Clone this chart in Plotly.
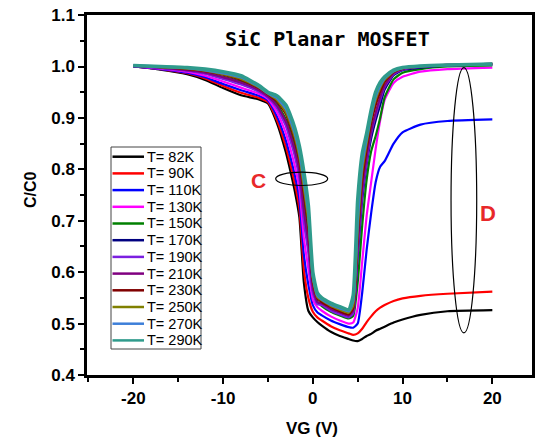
import plotly.graph_objects as go

VG = [-20, -17, -14, -12, -10, -8, -6, -5, -4, -3, -2.5, -2, -1.5, -1, -0.5, 0, 0.5,
      1, 2, 3, 4, 4.5, 5, 5.5, 6, 6.5, 7, 7.5, 8, 9, 10, 12, 15, 20]

C_82K = [1.000, 0.994, 0.985, 0.974, 0.958, 0.944, 0.936, 0.928, 0.890, 0.833, 0.797, 0.757, 0.707, 0.580, 0.525, 0.512, 0.503,
         0.496, 0.484, 0.476, 0.470, 0.467, 0.466, 0.470, 0.476, 0.480, 0.486, 0.490, 0.494, 0.502, 0.508, 0.517, 0.524, 0.526]
C_90K = [1.000, 0.995, 0.987, 0.977, 0.962, 0.949, 0.939, 0.931, 0.896, 0.844, 0.810, 0.772, 0.724, 0.606, 0.550, 0.523, 0.512,
         0.506, 0.495, 0.487, 0.481, 0.478, 0.481, 0.490, 0.503, 0.514, 0.524, 0.531, 0.536, 0.544, 0.549, 0.554, 0.558, 0.562]
C_110K = [1.000, 0.995, 0.988, 0.979, 0.966, 0.954, 0.943, 0.934, 0.903, 0.856, 0.824, 0.788, 0.742, 0.634, 0.576, 0.536, 0.522,
          0.516, 0.506, 0.499, 0.493, 0.492, 0.500, 0.560, 0.644, 0.715, 0.775, 0.805, 0.816, 0.850, 0.872, 0.887, 0.894, 0.897]
C_130K = [1.001, 0.996, 0.990, 0.982, 0.971, 0.959, 0.947, 0.937, 0.911, 0.870, 0.840, 0.806, 0.762, 0.666, 0.607, 0.547, 0.532,
          0.525, 0.514, 0.506, 0.500, 0.502, 0.530, 0.620, 0.710, 0.775, 0.840, 0.895, 0.935, 0.968, 0.980, 0.990, 0.995, 0.998]
C_150K = [1.001, 0.998, 0.994, 0.989, 0.980, 0.971, 0.955, 0.943, 0.927, 0.897, 0.873, 0.843, 0.804, 0.730, 0.668, 0.574, 0.543,
          0.534, 0.523, 0.516, 0.510, 0.515, 0.580, 0.690, 0.780, 0.835, 0.865, 0.900, 0.940, 0.975, 0.988, 0.995, 1.000, 1.002]
C_170K = [1.001, 0.998, 0.993, 0.987, 0.977, 0.967, 0.952, 0.941, 0.922, 0.888, 0.862, 0.831, 0.790, 0.709, 0.648, 0.565, 0.540,
          0.537, 0.526, 0.519, 0.513, 0.520, 0.630, 0.740, 0.810, 0.860, 0.895, 0.925, 0.955, 0.983, 0.993, 0.998, 1.002, 1.004]
C_190K = [1.001, 0.997, 0.992, 0.986, 0.976, 0.965, 0.951, 0.940, 0.919, 0.884, 0.856, 0.825, 0.783, 0.698, 0.638, 0.560, 0.538,
          0.536, 0.525, 0.518, 0.512, 0.520, 0.640, 0.750, 0.815, 0.870, 0.905, 0.935, 0.960, 0.985, 0.994, 0.999, 1.002, 1.004]
C_210K = [1.001, 0.998, 0.993, 0.988, 0.979, 0.969, 0.954, 0.942, 0.924, 0.893, 0.867, 0.837, 0.797, 0.720, 0.658, 0.569, 0.542,
          0.539, 0.529, 0.522, 0.516, 0.525, 0.650, 0.760, 0.825, 0.875, 0.910, 0.940, 0.963, 0.987, 0.995, 1.000, 1.003, 1.005]
C_230K = [1.002, 0.999, 0.995, 0.991, 0.984, 0.974, 0.958, 0.946, 0.932, 0.907, 0.883, 0.855, 0.817, 0.752, 0.689, 0.582, 0.549,
          0.542, 0.532, 0.524, 0.518, 0.530, 0.670, 0.780, 0.840, 0.890, 0.925, 0.950, 0.970, 0.989, 0.996, 1.000, 1.003, 1.005]
C_250K = [1.002, 0.999, 0.996, 0.992, 0.985, 0.976, 0.959, 0.947, 0.935, 0.911, 0.889, 0.862, 0.824, 0.763, 0.699, 0.587, 0.551,
          0.545, 0.534, 0.527, 0.521, 0.535, 0.680, 0.795, 0.850, 0.900, 0.935, 0.958, 0.974, 0.990, 0.997, 1.000, 1.003, 1.005]
C_270K = [1.002, 1.000, 0.997, 0.993, 0.987, 0.979, 0.961, 0.948, 0.939, 0.918, 0.896, 0.870, 0.834, 0.778, 0.714, 0.593, 0.555,
          0.547, 0.537, 0.530, 0.524, 0.545, 0.700, 0.810, 0.860, 0.905, 0.942, 0.963, 0.977, 0.991, 0.997, 1.001, 1.003, 1.005]
C_290K = [1.002, 1.000, 0.998, 0.995, 0.990, 0.982, 0.963, 0.950, 0.943, 0.925, 0.905, 0.880, 0.845, 0.795, 0.730, 0.600, 0.560,
          0.550, 0.540, 0.533, 0.527, 0.555, 0.740, 0.830, 0.870, 0.915, 0.950, 0.969, 0.980, 0.993, 0.998, 1.001, 1.003, 1.005]

NAMES = ["T= 82K", "T= 90K", "T= 110K", "T= 130K", "T= 150K", "T= 170K",
         "T= 190K", "T= 210K", "T= 230K", "T= 250K", "T= 270K", "T= 290K"]
SERIES = [C_82K, C_90K, C_110K, C_130K, C_150K, C_170K,
          C_190K, C_210K, C_230K, C_250K, C_270K, C_290K]
COLORS = ["#000000", "#ff0000", "#0000ff", "#ff00ff", "#008000", "#000080",
          "#7b1fe0", "#800080", "#800000", "#808000", "#3d7fd9", "#2f9b8c"]
WIDTHS = [2.2, 2.2, 2.2, 2.2, 2.2, 2.2, 2.2, 2.2, 2.2, 2.2, 2.6, 3.6]

X_TICKS = [-20, -10, 0, 10, 20]
Y_TICKS = [0.4, 0.5, 0.6, 0.7, 0.8, 0.9, 1.0, 1.1]

fig = go.Figure()
for name, ys, col, w in zip(NAMES, SERIES, COLORS, WIDTHS):
    fig.add_trace(go.Scatter(x=VG, y=ys, mode="lines", name=name, showlegend=False,
                             line=dict(color=col, width=w, shape="spline", smoothing=0.5)))

# page body margin is set to 0 by post_script, so the figure fills the window
W, H = 537, 439
ML, MT, MR, MB = 87, 15, 5, 64
PW, PH = W - ML - MR, H - MT - MB

def px_x(px):
    return (px - ML) / PW

def px_y(py):
    return (H - MB - py) / PH

shapes = []
annotations = []

# legend box (manual, to match compact spacing)
shapes.append(dict(type="rect", xref="paper", yref="paper",
                   x0=px_x(111), x1=px_x(201), y0=px_y(349), y1=px_y(147),
                   line=dict(color="#444444", width=1), fillcolor="white", layer="above"))
for i, (name, col) in enumerate(zip(NAMES, COLORS)):
    yy = px_y(156.7 + 16.7 * i)
    shapes.append(dict(type="line", xref="paper", yref="paper",
                       x0=px_x(112.5), x1=px_x(144), y0=yy, y1=yy,
                       line=dict(color=col, width=2.5), layer="above"))
    annotations.append(dict(xref="paper", yref="paper", x=px_x(145), y=yy,
                            text=name, showarrow=False, xanchor="left", yanchor="middle",
                            font=dict(family="Liberation Sans, Arial", size=14.5, color="black")))

# ellipses C and D
shapes.append(dict(type="circle", xref="x", yref="y", x0=-4.14, x1=1.66, y0=0.7686, y1=0.7946,
                   line=dict(color="black", width=1.2)))
shapes.append(dict(type="circle", xref="x", yref="y", x0=15.4, x1=18.26, y0=0.482, y1=0.998,
                   line=dict(color="black", width=1.2)))

def label(px, py, text, font, angle=0):
    annotations.append(dict(xref="paper", yref="paper", x=px_x(px), y=px_y(py), text=text,
                            showarrow=False, xanchor="center", yanchor="middle",
                            textangle=angle, font=font))

label(258, 180, "<b>C</b>", dict(family="Liberation Sans Narrow, Liberation Sans", size=21, color="#e8282a"))
label(488, 213, "<b>D</b>", dict(family="Liberation Sans Narrow, Liberation Sans", size=22, color="#e8282a"))
label(327, 39, "<b>SiC Planar MOSFET</b>", dict(family="DejaVu Sans Mono", size=20, color="black"))
label(312, 429, "<b>VG (V)</b>", dict(family="Liberation Sans, Arial", size=17, color="black"))
label(30, 190, "<b>C/C0</b>", dict(family="Liberation Sans, Arial", size=16, color="black"), angle=-90)

fig.update_layout(
    width=W, height=H,
    margin=dict(l=ML, r=MR, t=MT, b=MB, autoexpand=False),
    paper_bgcolor="white", plot_bgcolor="white",
    font=dict(family="Liberation Sans, Arial", color="black"),
    shapes=shapes, annotations=annotations,
    showlegend=False,
)
fig.update_xaxes(range=[-25.16, 24.42], tickmode="array", tickvals=X_TICKS,
                 ticktext=[f"<b>{v}</b>" for v in X_TICKS], automargin=False,
                 ticklabeloverflow="allow",
                 ticks="outside", ticklen=6, tickwidth=2, tickcolor="black",
                 minor=dict(dtick=5, tick0=0, ticks="outside", ticklen=4, tickwidth=2, tickcolor="black"),
                 showline=True, linewidth=2.5, linecolor="black", mirror=True,
                 showgrid=False, zeroline=False,
                 tickfont=dict(size=17, family="Liberation Sans, Arial"))
fig.update_yaxes(range=[0.4, 1.1002], tickmode="array", tickvals=Y_TICKS,
                 ticktext=[f"<b>{v:.1f}</b>" for v in Y_TICKS], automargin=False,
                 ticklabeloverflow="allow",
                 ticks="outside", ticklen=6, tickwidth=2, tickcolor="black",
                 minor=dict(dtick=0.05, tick0=0.4, ticks="outside", ticklen=4, tickwidth=2, tickcolor="black"),
                 showline=True, linewidth=2.5, linecolor="black", mirror=True,
                 showgrid=False, zeroline=False,
                 tickfont=dict(size=17, family="Liberation Sans, Arial"))

fig.write_html("out.html", config={"displayModeBar": False},
               post_script="document.body.style.margin='0px';")
